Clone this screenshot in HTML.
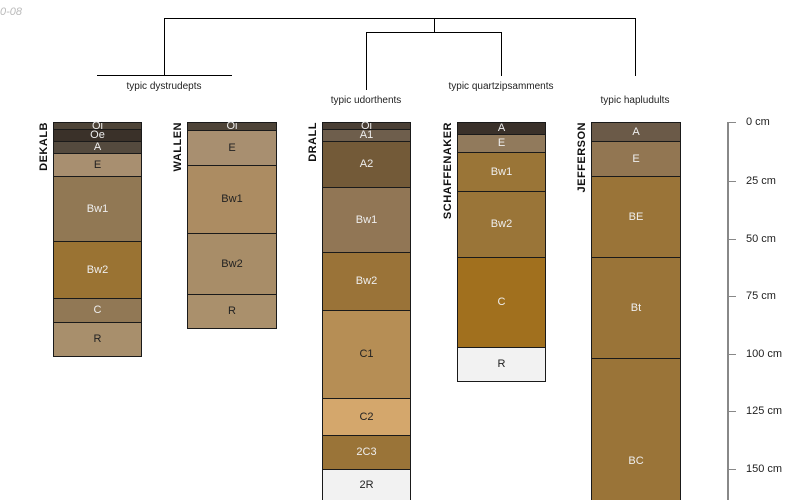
<!DOCTYPE html>
<html style="overflow:hidden;width:800px;height:500px"><head><meta charset="utf-8"><style>
body{margin:0;width:800px;height:500px;overflow:hidden;background:#fff;position:relative;font-family:"Liberation Sans",sans-serif}
div{position:absolute;box-sizing:border-box}
.l{background:#000}
.h{border:1px solid #1a1a1a;display:flex;align-items:center;justify-content:center;font-size:11px;color:#eee;line-height:1}
.d{color:#222}
.t{font-size:10px;color:#222;white-space:nowrap;transform:translateX(-50%)}
.n{font-size:11px;font-weight:bold;color:#111;transform-origin:0 0;transform:rotate(-90deg);white-space:nowrap;text-align:right;width:120px;letter-spacing:0.5px}
.tk{background:#888;height:1px;width:8px;left:728px}
.ax{font-size:11px;color:#222;left:746px}
</style></head><body>
<div style="left:0;top:6px;font-size:11px;color:#bbb;font-style:italic">0-08</div>
<div class="l" style="left:164px;top:18px;width:472px;height:1px"></div>
<div class="l" style="left:164px;top:18px;width:1px;height:58px"></div>
<div class="l" style="left:635px;top:18px;width:1px;height:58px"></div>
<div class="l" style="left:434px;top:18px;width:1px;height:14px"></div>
<div class="l" style="left:366px;top:32px;width:136px;height:1px"></div>
<div class="l" style="left:366px;top:32px;width:1px;height:58px"></div>
<div class="l" style="left:501px;top:32px;width:1px;height:44px"></div>
<div class="l" style="left:97px;top:75px;width:135px;height:1px"></div>
<div class="t" style="left:164px;top:81px">typic dystrudepts</div>
<div class="t" style="left:366px;top:95px">typic udorthents</div>
<div class="t" style="left:501px;top:81px">typic quartzipsamments</div>
<div class="t" style="left:635px;top:95px">typic hapludults</div>
<div class="n" style="left:38px;top:242px">DEKALB</div>
<div class="n" style="left:172px;top:242px">WALLEN</div>
<div class="n" style="left:307px;top:242px">DRALL</div>
<div class="n" style="left:442px;top:242px">SCHAFFENAKER</div>
<div class="n" style="left:576px;top:242px">JEFFERSON</div>
<div class="h" style="left:53px;width:89px;top:122px;height:8px;background:#4e4438">Oi</div>
<div class="h" style="left:53px;width:89px;top:129px;height:13px;background:#3a3129">Oe</div>
<div class="h" style="left:53px;width:89px;top:141px;height:13px;background:#544a3e">A</div>
<div class="h d" style="left:53px;width:89px;top:153px;height:24px;background:#a88f70">E</div>
<div class="h" style="left:53px;width:89px;top:176px;height:66px;background:#917854">Bw1</div>
<div class="h" style="left:53px;width:89px;top:241px;height:58px;background:#9a7333">Bw2</div>
<div class="h" style="left:53px;width:89px;top:298px;height:25px;background:#917855">C</div>
<div class="h d" style="left:53px;width:89px;top:322px;height:35px;background:#a88f6c">R</div>
<div class="h" style="left:187px;width:90px;top:122px;height:9px;background:#4e4438">Oi</div>
<div class="h d" style="left:187px;width:90px;top:130px;height:36px;background:#a88f70">E</div>
<div class="h d" style="left:187px;width:90px;top:165px;height:69px;background:#ac8c62">Bw1</div>
<div class="h d" style="left:187px;width:90px;top:233px;height:62px;background:#a88d68">Bw2</div>
<div class="h d" style="left:187px;width:90px;top:294px;height:35px;background:#aa906c">R</div>
<div class="h" style="left:322px;width:89px;top:122px;height:8px;background:#4a3f35">Oi</div>
<div class="h" style="left:322px;width:89px;top:129px;height:13px;background:#6e5e4c">A1</div>
<div class="h" style="left:322px;width:89px;top:141px;height:47px;background:#735a38">A2</div>
<div class="h" style="left:322px;width:89px;top:187px;height:66px;background:#917655">Bw1</div>
<div class="h" style="left:322px;width:89px;top:252px;height:59px;background:#9a7338">Bw2</div>
<div class="h d" style="left:322px;width:89px;top:310px;height:89px;background:#b68e55">C1</div>
<div class="h d" style="left:322px;width:89px;top:398px;height:38px;background:#d4a76c">C2</div>
<div class="h" style="left:322px;width:89px;top:435px;height:35px;background:#9a7438">2C3</div>
<div class="h d" style="left:322px;width:89px;top:469px;height:31px;border-bottom:none;background:#f2f2f2">2R</div>
<div class="h" style="left:457px;width:89px;top:122px;height:13px;background:#3a312a">A</div>
<div class="h" style="left:457px;width:89px;top:134px;height:19px;background:#917a5c">E</div>
<div class="h" style="left:457px;width:89px;top:152px;height:40px;background:#9a7537">Bw1</div>
<div class="h" style="left:457px;width:89px;top:191px;height:67px;background:#9a7538">Bw2</div>
<div class="h" style="left:457px;width:89px;top:257px;height:91px;background:#a1701e">C</div>
<div class="h d" style="left:457px;width:89px;top:347px;height:35px;background:#f2f2f2">R</div>
<div class="h" style="left:591px;width:90px;top:122px;height:20px;background:#6b5a48">A</div>
<div class="h" style="left:591px;width:90px;top:141px;height:36px;background:#927652">E</div>
<div class="h" style="left:591px;width:90px;top:176px;height:82px;background:#9a7438">BE</div>
<div class="h" style="left:591px;width:90px;top:257px;height:102px;background:#9a7438">Bt</div>
<div class="h" style="left:591px;width:90px;top:358px;height:142px;border-bottom:none;background:#9a7438;padding-top:64px">BC</div>
<div style="left:727px;top:122px;width:2px;height:378px;background:#888"></div>
<div class="tk" style="top:122px"></div><div class="ax" style="top:116px">0 cm</div>
<div class="tk" style="top:181px"></div><div class="ax" style="top:175px">25 cm</div>
<div class="tk" style="top:239px"></div><div class="ax" style="top:233px">50 cm</div>
<div class="tk" style="top:296px"></div><div class="ax" style="top:290px">75 cm</div>
<div class="tk" style="top:354px"></div><div class="ax" style="top:348px">100 cm</div>
<div class="tk" style="top:411px"></div><div class="ax" style="top:405px">125 cm</div>
<div class="tk" style="top:469px"></div><div class="ax" style="top:463px">150 cm</div>
</body></html>
